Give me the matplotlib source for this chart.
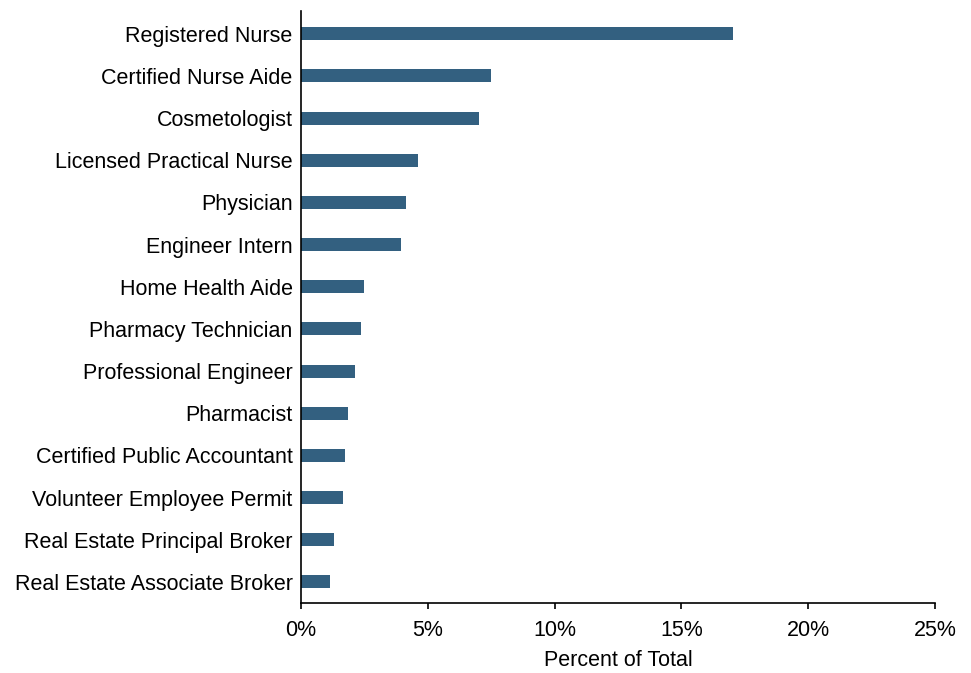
import matplotlib.pyplot as plt
from matplotlib.ticker import FuncFormatter

plt.rcParams['font.family'] = ['Liberation Sans', 'DejaVu Sans']

occupations = [
    "Registered Nurse", "Certified Nurse Aide", "Cosmetologist",
    "Licensed Practical Nurse", "Physician", "Engineer Intern",
    "Home Health Aide", "Pharmacy Technician", "Professional Engineer",
    "Pharmacist", "Certified Public Accountant", "Volunteer Employee Permit",
    "Real Estate Principal Broker", "Real Estate Associate Broker",
]
percent = [17.04, 7.51, 7.02, 4.61, 4.14, 3.93, 2.47, 2.36, 2.12,
           1.87, 1.74, 1.66, 1.31, 1.14]

fig = plt.figure(figsize=(9.71, 6.73), dpi=100)
ax = fig.add_axes([0.31, 0.104, 0.653, 0.879])

pos = range(len(occupations))
ax.barh(pos, percent, height=0.31, color="#336080")

ax.set_yticks(list(pos))
ax.set_yticklabels(occupations, fontsize=15.5)
ax.set_ylim(13.5, -0.53)
ax.set_xlim(0, 25)
ax.set_xticks([0, 5, 10, 15, 20, 25])
ax.xaxis.set_major_formatter(FuncFormatter(lambda v, p: "%d%%" % v))
ax.tick_params(axis="x", labelsize=15.5, length=4, width=1.2, direction="out", pad=8)
ax.tick_params(axis="y", length=0, pad=6)
ax.set_xlabel("Percent of Total", fontsize=15.5, labelpad=7)

for s in ["top", "right"]:
    ax.spines[s].set_visible(False)
for s in ["left", "bottom"]:
    ax.spines[s].set_linewidth(1.2)
    ax.spines[s].set_color("black")

fig.savefig("out.png", dpi=100)
